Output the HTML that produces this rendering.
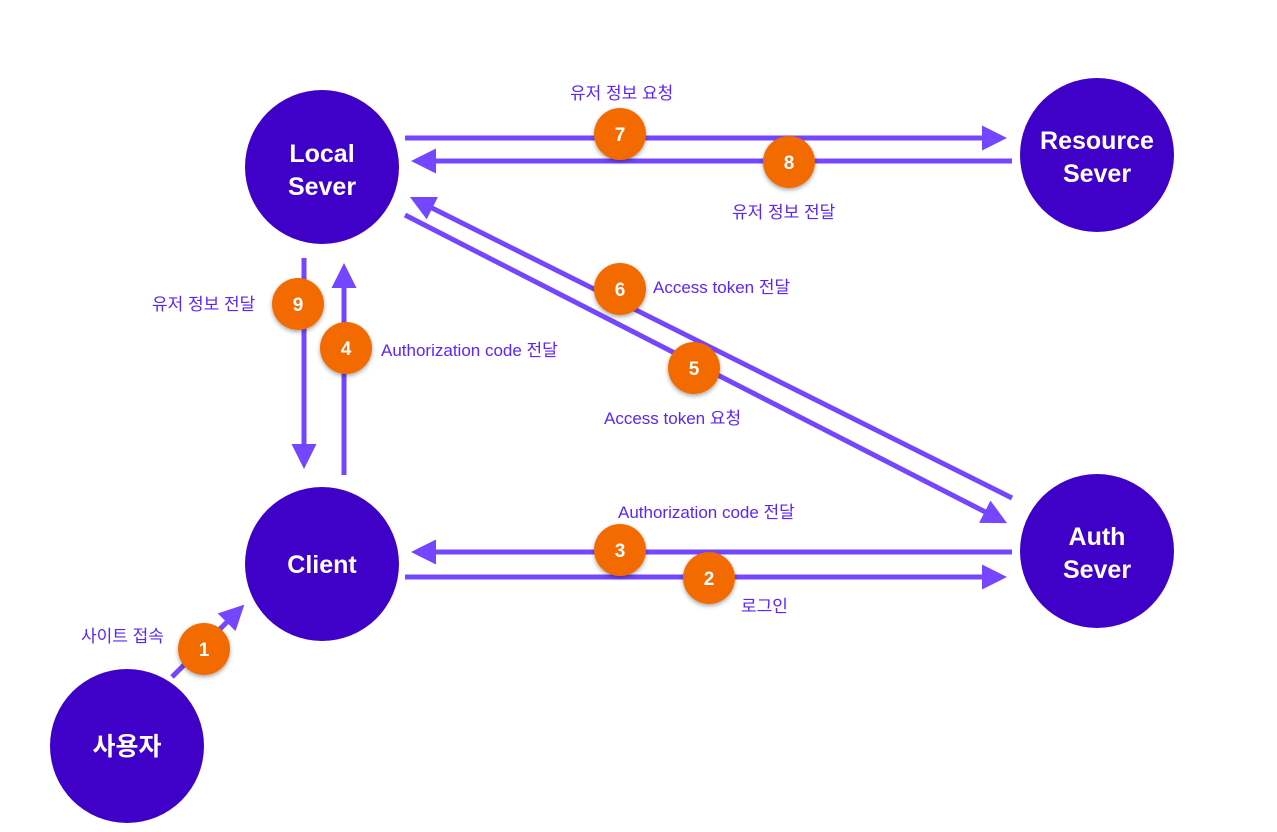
<!DOCTYPE html>
<html><head><meta charset="utf-8"><style>
body{margin:0;background:#fff}
svg text{font-family:"Liberation Sans","Noto Sans CJK KR",sans-serif}
</style></head><body>
<svg width="1277" height="827" viewBox="0 0 1277 827" xmlns="http://www.w3.org/2000/svg">
<defs>
<marker id="a" markerWidth="5" markerHeight="5" refX="3.2" refY="2.5" orient="auto" markerUnits="strokeWidth"><path d="M0,0 L5,2.5 L0,5 z" fill="#7446ff"/></marker>
<filter id="sh" x="-30%" y="-30%" width="160%" height="160%"><feDropShadow dx="0" dy="2" stdDeviation="2" flood-opacity="0.35"/></filter>
</defs>
<g stroke="#7446ff" stroke-width="5" fill="none">
<line x1="405" y1="138" x2="998" y2="138" marker-end="url(#a)"/>
<line x1="1012" y1="161" x2="420" y2="161" marker-end="url(#a)"/>
<line x1="1012" y1="498" x2="418" y2="201" marker-end="url(#a)"/>
<line x1="405" y1="215" x2="999" y2="519" marker-end="url(#a)"/>
<line x1="304" y1="258" x2="304" y2="460" marker-end="url(#a)"/>
<line x1="344" y1="475" x2="344" y2="272" marker-end="url(#a)"/>
<line x1="1012" y1="552" x2="420" y2="552" marker-end="url(#a)"/>
<line x1="405" y1="577" x2="998" y2="577" marker-end="url(#a)"/>
<line x1="172" y1="677" x2="238" y2="611" marker-end="url(#a)"/>
</g>
<g fill="#3f00c8">
<circle cx="322" cy="167" r="77"/>
<circle cx="1097" cy="155" r="77"/>
<circle cx="322" cy="564" r="77"/>
<circle cx="1097" cy="551" r="77"/>
<circle cx="127" cy="746" r="77"/>
</g>
<g fill="#fff" font-weight="bold" font-size="25" text-anchor="middle">
<text x="322" y="162">Local</text><text x="322" y="195">Sever</text>
<text x="1097" y="149">Resource</text><text x="1097" y="182">Sever</text>
<text x="322" y="573">Client</text>
<text x="1097" y="545">Auth</text><text x="1097" y="578">Sever</text>
<text x="127" y="755">사용자</text>
</g>
<g fill="#f26a00" filter="url(#sh)">
<circle cx="620" cy="134" r="26"/><circle cx="789" cy="162" r="26"/>
<circle cx="620" cy="289" r="26"/><circle cx="694" cy="368" r="26"/>
<circle cx="298" cy="304" r="26"/><circle cx="346" cy="348" r="26"/>
<circle cx="620" cy="550" r="26"/><circle cx="709" cy="578" r="26"/>
<circle cx="204" cy="649" r="26"/>
</g>
<g fill="#fff" font-weight="bold" font-size="19" text-anchor="middle">
<text x="620" y="141">7</text><text x="789" y="169">8</text>
<text x="620" y="296">6</text><text x="694" y="375">5</text>
<text x="298" y="311">9</text><text x="346" y="355">4</text>
<text x="620" y="557">3</text><text x="709" y="585">2</text>
<text x="204" y="656">1</text>
</g>
<g fill="#5b24ff" font-size="17">
<text x="570" y="99">유저 정보 요청</text>
<text x="732" y="218">유저 정보 전달</text>
<text x="653" y="293">Access token 전달</text>
<text x="604" y="424">Access token 요청</text>
<text x="152" y="310">유저 정보 전달</text>
<text x="381" y="356">Authorization code 전달</text>
<text x="618" y="518">Authorization code 전달</text>
<text x="741" y="612">로그인</text>
<text x="81" y="642">사이트 접속</text>
</g>
</svg>
</body></html>
